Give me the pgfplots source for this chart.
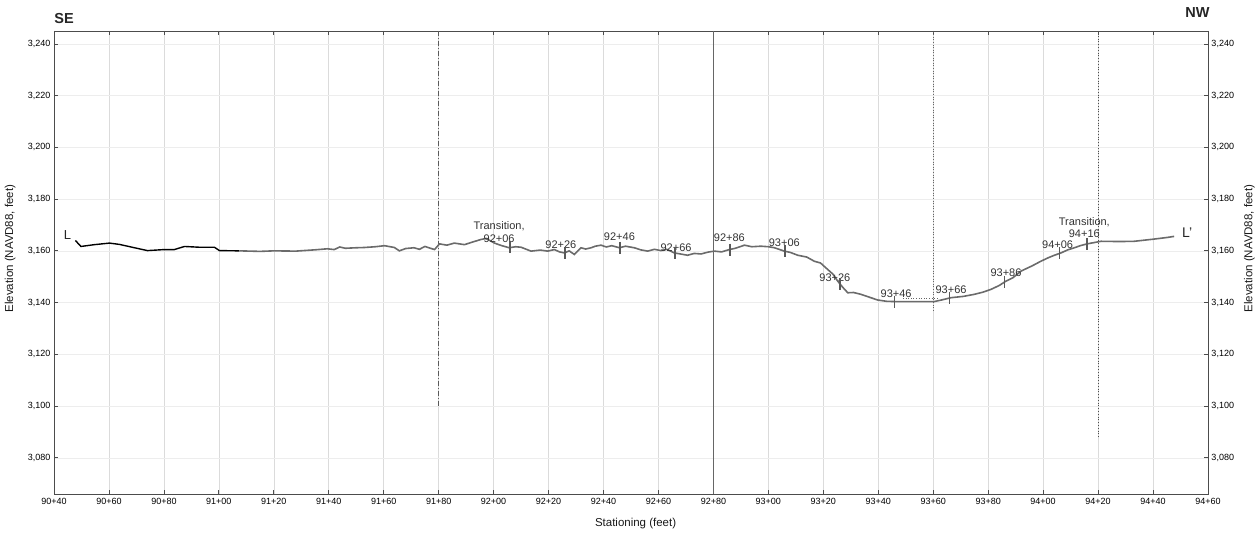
\documentclass[border=0pt]{standalone}
\usepackage{fontspec}
\setmainfont{Liberation Sans}
\usepackage{pgfplots}
\pgfplotsset{compat=1.18}
\begin{document}
\begin{tikzpicture}
\path (-54pt,-42pt) rectangle (1206pt,494pt);
\pgfplotsset{
  commonax/.style={
    at={(0,0)}, anchor=south west,
    scale only axis, width=1154pt, height=463pt,
    xmin=9040, xmax=9460, ymin=3066, ymax=3245,
    xtick={9040,9060,...,9460},
    ytick={3080,3100,...,3240},
    yticklabels={{3,080},{3,100},{3,120},{3,140},{3,160},{3,180},{3,200},{3,220},{3,240}},
    tick label style={font=\fontsize{9}{10}\selectfont, text=black},
    label style={font=\fontsize{11.5}{13}\selectfont, text=black!90},
  }
}
\begin{axis}[commonax,
  xticklabels={90+40,90+60,90+80,91+00,91+20,91+40,91+60,91+80,92+00,92+20,92+40,92+60,92+80,93+00,93+20,93+40,93+60,93+80,94+00,94+20,94+40,94+60},
  xticklabel style={yshift=-1pt},
  axis line style={black!70, line width=0.9pt},
  major tick style={black!70, line width=0.8pt},
  major tick length=4pt,
  xmajorgrids, ymajorgrids,
  x grid style={gray!28, line width=0.6pt},
  y grid style={gray!14, line width=0.5pt},
  xlabel={Stationing (feet)},
  xlabel style={at={(axis description cs:0.504,-0.063)}, anchor=center},
  ylabel={Elevation (NAVD88, feet)},
  ylabel style={at={(axis description cs:-0.038,0.53)}, anchor=center},
  clip=false,
]
% scan reference lines
\addplot[black!60, line width=0.9pt] coordinates {(9280,3066) (9280,3245)};
\addplot[black!65, line width=0.7pt, dash pattern=on 5pt off 2pt on 1pt off 2pt] coordinates {(9180,3100) (9180,3245)};
\addplot[black!70, line width=0.8pt, dotted] coordinates {(9420,3088) (9420,3245)};
\addplot[black!60, line width=0.6pt, dotted] coordinates {(9360,3137) (9360,3245)};
\addplot[black!60, line width=0.6pt, dotted] coordinates {(9349,3141.6) (9362,3141.6)};
% profile, black part
\addplot[black, line width=1.4pt] coordinates {
(9047.8,3164.0) (9049.8,3161.7) (9054.7,3162.4) (9060.2,3163.0) (9063.8,3162.5)
(9069.3,3161.2) (9074.0,3160.1) (9080.2,3160.5) (9083.8,3160.5) (9087.5,3161.7)
(9092.9,3161.4) (9098.4,3161.4) (9100.2,3160.1) (9107.5,3160.0)};
% profile, grey part
\addplot[black!58, line width=1.6pt] coordinates {
(9107.5,3160.0) (9115,3159.8) (9120,3160.0) (9128,3159.9) (9135,3160.4)
(9139.5,3160.8) (9142,3160.5) (9144,3161.5) (9146,3161.0) (9150,3161.2)
(9153,3161.3) (9157,3161.6) (9160.3,3162.0) (9163.9,3161.3) (9165.7,3160.0)
(9168,3160.9) (9171,3161.2) (9173,3160.6) (9175,3161.7) (9178.5,3160.5)
(9180.3,3162.7) (9183,3162.2) (9185.7,3163.0) (9189.4,3162.4) (9192,3163.3)
(9195.4,3164.4) (9197.3,3164.8) (9200.3,3163.0) (9203,3162.0) (9205.7,3161.2)
(9208,3161.6) (9210,3161.4) (9213.6,3159.9) (9217,3160.3) (9219.7,3159.9)
(9222.1,3160.5) (9224,3159.6) (9225.8,3159.2) (9227.5,3160.0) (9229.4,3158.6)
(9231.8,3161.2) (9233.5,3160.7) (9235.5,3161.2) (9237,3161.8) (9239.1,3162.2)
(9241,3161.5) (9243,3162.0) (9245.8,3161.2) (9248,3161.8) (9251.2,3161.2)
(9253.5,3160.4) (9256.1,3159.9) (9258.5,3160.6) (9260.9,3160.1) (9263,3160.6)
(9265.8,3159.2) (9268,3158.8) (9270.6,3158.3) (9273,3159.0) (9275.5,3158.8)
(9278,3159.5) (9280.3,3159.9) (9283,3159.6) (9285.8,3160.5) (9288,3161.0)
(9291.3,3162.2) (9294,3161.6) (9297.3,3161.8) (9300,3161.6) (9302.2,3161.2)
(9305.8,3159.9) (9308,3159.4) (9310.7,3158.3) (9314,3157.6) (9316.7,3156.0)
(9319,3155.3) (9321.6,3152.8) (9323.5,3151.0) (9325.1,3148.5) (9327,3146.0)
(9328.9,3143.8) (9331,3143.9) (9333.7,3143.2) (9337,3142.0) (9339.8,3141.0)
(9343,3140.5) (9345.8,3140.4) (9360.4,3140.4) (9363,3141.0) (9366.5,3141.9)
(9371,3142.4) (9375,3143.2) (9378,3144.0) (9381,3145.1) (9384,3146.6)
(9386.5,3148.3) (9389,3149.6) (9392,3152.2) (9396,3154.2) (9399.2,3156.0)
(9402,3157.4) (9404.1,3158.3) (9406.5,3159.2) (9409,3160.4) (9411.4,3161.2)
(9413.5,3162.0) (9416,3162.7) (9421.1,3163.7) (9428,3163.6) (9433.2,3163.7)
(9440,3164.5) (9445.3,3165.2) (9447.7,3165.6)};
% station markers
\addplot[only marks, mark=|, mark size=6pt, mark options={line width=1.5pt, draw=black!65}] coordinates {
(9206,3161.3) (9226,3159.2) (9246,3161.2) (9266,3159.2) (9286,3160.5) (9306,3159.9)
(9326,3147.2) (9346,3140.4) (9366,3141.9) (9386,3148.0) (9406,3159.1) (9416,3162.7)};
% labels
\begin{scope}[every node/.style={font=\fontsize{11}{12.5}\selectfont, text=black!80, align=center, inner sep=0pt}]
\node at (axis cs:9202,3167.2) {Transition,\\92+06};
\node at (axis cs:9224.5,3162.4) {92+26};
\node at (axis cs:9245.8,3165.4) {92+46};
\node at (axis cs:9266.4,3161.4) {92+66};
\node at (axis cs:9285.8,3165.0) {92+86};
\node at (axis cs:9305.8,3163.0) {93+06};
\node at (axis cs:9324.2,3149.6) {93+26};
\node at (axis cs:9346.5,3143.5) {93+46};
\node at (axis cs:9366.5,3145.1) {93+66};
\node at (axis cs:9386.5,3151.5) {93+86};
\node at (axis cs:9405.3,3162.2) {94+06};
\node at (axis cs:9415,3169.1) {Transition,\\94+16};
\end{scope}
\node[font=\fontsize{13}{14}\selectfont, text=black!85] at (axis cs:9044.9,3166.2) {L};
\node[font=\fontsize{14}{15}\selectfont, text=black!85] at (axis cs:9452.4,3167.2) {L'};
\node[font=\fontsize{14.5}{16}\selectfont\bfseries, text=black!85] at (axis description cs:0.0087,1.028) {SE};
\node[font=\fontsize{14.5}{16}\selectfont\bfseries, text=black!85] at (axis description cs:0.991,1.039) {NW};
\end{axis}
\begin{axis}[commonax,
  hide x axis,
  axis line style={draw=none},
  major tick style={draw=none},
  yticklabel pos=right,
  ylabel={Elevation (NAVD88, feet)},
  ylabel style={at={(axis description cs:1.036,0.53)}, anchor=center},
]
\addplot[draw=none] coordinates {(9040,3100) (9460,3100)};
\end{axis}
\end{tikzpicture}
\end{document}
